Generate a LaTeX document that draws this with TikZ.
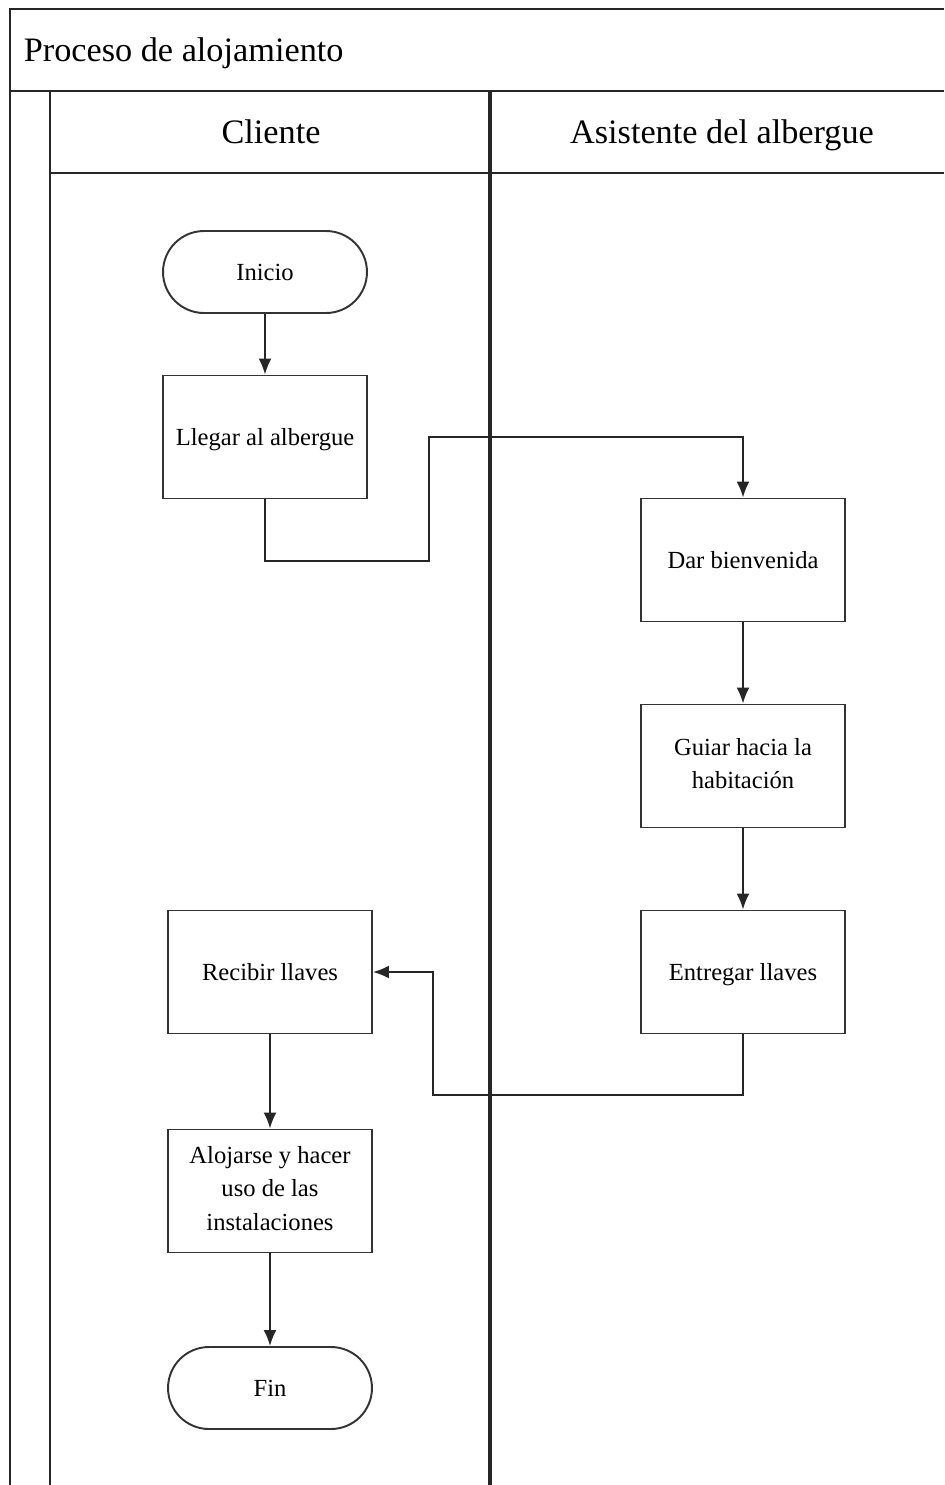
\documentclass[tikz,border=0pt]{standalone}
\usepackage{fontspec}
\setmainfont{Liberation Serif}
\usetikzlibrary{arrows.meta}

\begin{document}
\begin{tikzpicture}[>={Latex[length=0.32cm,width=0.26cm]},x=0.02cm,y=-0.02cm,line width=1.1pt,
  every node/.style={execute at begin node=\rule{0pt}{0.9em},execute at end node=\rule[-0.22em]{0pt}{0.1pt}},
  proc/.style={draw=black!80,rectangle,minimum width=4.08cm,minimum height=2.46cm,align=center,font=\fontsize{14}{19}\selectfont,inner sep=2pt},
  term/.style={draw=black!80,rectangle,rounded corners=0.82cm,minimum width=4.08cm,minimum height=1.64cm,font=\fontsize{14}{19}\selectfont},
  lane/.style={draw=black!85,line width=1.4pt},
  conn/.style={draw=black!85,line width=1.1pt}]
\useasboundingbox (0,0) rectangle (944,1485);
% pool and lanes
\draw [lane] (10,1485) -- (10,9) -- (944,9);
\draw [lane] (10,91) -- (944,91);
\draw [lane] (50,91) -- (50,1485);
\draw [lane] (50,173) -- (944,173);
\draw [lane,line width=1.8pt] (490,91) -- (490,1485);
\node [anchor=west,font=\fontsize{19.5}{22}\selectfont] (titulo) at (17,50) {Proceso de alojamiento};
\node [font=\fontsize{19.5}{22}\selectfont] (cliente) at (271,132) {Cliente};
\node [font=\fontsize{19.5}{22}\selectfont] (asistente) at (722,132) {Asistente del albergue};
% steps
\node [term] (inicio) at (265,272) {Inicio};
\node [proc] (llegar) at (265,437) {Llegar al albergue};
\node [proc] (dar) at (743,560) {Dar bienvenida};
\node [proc] (guiar) at (743,766) {Guiar hacia la\\habitación};
\node [proc] (entregar) at (743,972) {Entregar llaves};
\node [proc] (recibir) at (270,972) {Recibir llaves};
\node [proc] (alojarse) at (270,1191) {Alojarse y hacer\\uso de las\\instalaciones};
\node [term] (fin) at (270,1388) {Fin};
% bends
\coordinate (c1) at (429,561);
\coordinate (c2) at (429,437);
\coordinate (c3) at (433,1095);
\coordinate (c4) at (433,972);
\draw [conn,->] (inicio) -- (llegar);
\draw [conn,->] (llegar.south) |- (c1) -- (c2) -| (dar.north);
\draw [conn,->] (dar) -- (guiar);
\draw [conn,->] (guiar) -- (entregar);
\draw [conn,->] (entregar.south) |- (c3) -- (c4) -- (recibir.east);
\draw [conn,->] (recibir) -- (alojarse);
\draw [conn,->] (alojarse) -- (fin);
\end{tikzpicture}
\end{document}
